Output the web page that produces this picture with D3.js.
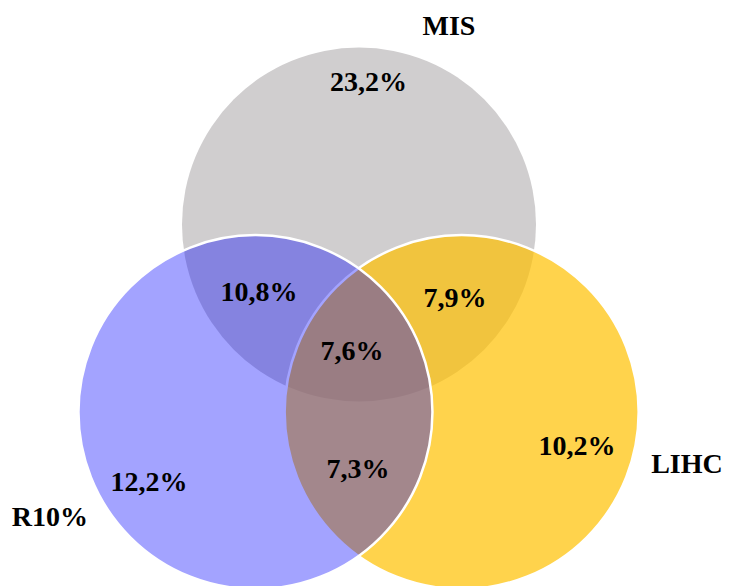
<!DOCTYPE html>
<html>
<head>
<meta charset="utf-8">
<script src="https://cdn.jsdelivr.net/npm/d3@7"></script>
<style>
  html, body { margin: 0; padding: 0; background: #fff; }
  svg { display: block; }
</style>
</head>
<body>
<svg id="chart" width="730" height="586"></svg>
<script>
// ---- data ----
const sets = ["MIS", "LIHC", "R10%"];              // drawing order: gray, yellow, blue
const setColors = ["#d0cecf", "#ffc000", "#0000ff"];
const setOpacity = [1, 0.7, 0.36];
const setStroke = [false, true, true];
// circle centres in radius units (layout of the Venn)
const setCx = [0.0, 0.58, -0.585];
const setCy = [0.0, 1.06, 1.06];
// set name label positions (radius units)
const setLabelX = [0.508, 1.853, -1.746];
const setLabelY = [-1.071, 1.404, 1.703];

const regionLabels = ["23,2%", "10,8%", "7,9%", "7,6%", "12,2%", "7,3%", "10,2%"];
const regionX = [0.054, -0.565, 0.542, -0.040, -1.186, -0.006, 1.232];
const regionY = [-0.754, 0.432, 0.466, 0.766, 1.504, 1.432, 1.302];

// ---- scales ----
const R = 177;
const x = d3.scaleLinear().domain([-1, 1]).range([359 - R, 359 + R]);
const y = d3.scaleLinear().domain([-1, 1]).range([224.5 - R, 224.5 + R]);
const rScale = d3.scaleLinear().domain([0, 1]).range([0, R]);

const FONT = '"Liberation Serif", serif';
const svg = d3.select("#chart");

svg.selectAll("circle.set")
  .data(sets)
  .join("circle")
  .attr("class", "set")
  .attr("cx", (d, i) => x(setCx[i]))
  .attr("cy", (d, i) => y(setCy[i]))
  .attr("r", rScale(1))
  .attr("fill", (d, i) => setColors[i])
  .attr("fill-opacity", (d, i) => setOpacity[i])
  .attr("stroke", (d, i) => setStroke[i] ? "#fff" : "none")
  .attr("stroke-width", 2.5);

svg.selectAll("text.region")
  .data(regionLabels)
  .join("text")
  .attr("class", "region")
  .attr("x", (d, i) => x(regionX[i]))
  .attr("y", (d, i) => y(regionY[i]))
  .attr("text-anchor", "middle")
  .style("font-family", FONT)
  .style("font-weight", "bold")
  .style("font-size", "28px")
  .attr("fill", "#000")
  .text(d => d);

svg.selectAll("text.setlabel")
  .data(sets)
  .join("text")
  .attr("class", "setlabel")
  .attr("x", (d, i) => x(setLabelX[i]))
  .attr("y", (d, i) => y(setLabelY[i]))
  .attr("text-anchor", "middle")
  .style("font-family", FONT)
  .style("font-weight", "bold")
  .style("font-size", "28px")
  .attr("fill", "#000")
  .text(d => d);
</script>
</body>
</html>
